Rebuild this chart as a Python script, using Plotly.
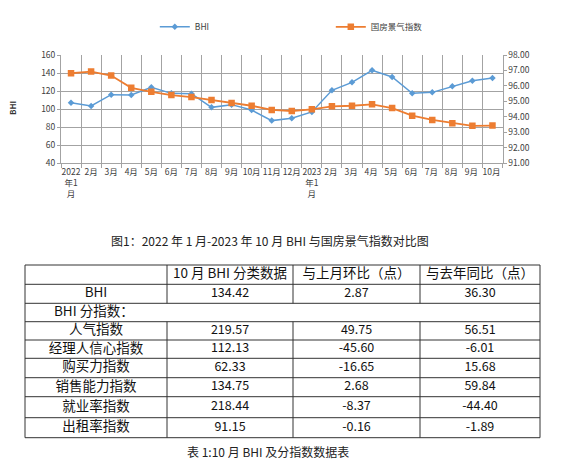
import plotly.graph_objects as go

# ---- chart data ----
months = ["2022<br>年1<br>月", "2月", "3月", "4月", "5月", "6月", "7月", "8月", "9月", "10月", "11月", "12月",
          "2023<br>年1<br>月", "2月 ", "3月 ", "4月 ", "5月 ", "6月 ", "7月 ", "8月 ", "9月 ", "10月 "]
bhi = [107.2, 103.5, 116.0, 115.7, 124.2, 117.5, 117.2, 102.0, 105.0, 99.0, 87.3, 90.0,
       96.9, 120.9, 129.7, 143.0, 135.6, 117.5, 118.6, 125.3, 131.55, 134.42]
guofang = [96.82, 96.93, 96.67, 95.88, 95.62, 95.41, 95.28, 95.09, 94.90, 94.72, 94.45, 94.38,
           94.49, 94.68, 94.72, 94.81, 94.57, 94.08, 93.80, 93.59, 93.42, 93.44]

# ---- table data ----
table_header = ["", "10 月 BHI 分类数据", "与上月环比（点）", "与去年同比（点）"]
row_names = ["BHI", "人气指数", "经理人信心指数", "购买力指数", "销售能力指数", "就业率指数", "出租率指数"]
col_value = ["134.42", "219.57", "112.13", "62.33", "134.75", "218.44", "91.15"]
col_mom = ["2.87", "49.75", "-45.60", "-16.65", "2.68", "-8.37", "-0.16"]
col_yoy = ["36.30", "56.51", "-6.01", "15.68", "59.84", "-44.40", "-1.89"]
sub_title = "BHI 分指数："

caption1 = "图1：2022 年 1 月-2023 年 10 月 BHI 与国房景气指数对比图"
caption2 = "表 1:10 月 BHI 及分指数数据表"

W, H = 565, 470
FONT = "Noto Sans CJK SC, Noto Sans, sans-serif"
GRID = "#a3a3a3"
TICK = "#404040"

fig = go.Figure()

fig.add_trace(go.Scatter(x=months, y=bhi, name="BHI", mode="lines+markers",
                         line=dict(color="#5b9bd5", width=1.5),
                         marker=dict(symbol="diamond", size=5, color="#5b9bd5"),
                         xaxis="x", yaxis="y"))
fig.add_trace(go.Scatter(x=months, y=guofang, name="国房景气指数", mode="lines+markers",
                         line=dict(color="#ed7d31", width=1.8),
                         marker=dict(symbol="square", size=6.5, color="#ed7d31"),
                         xaxis="x", yaxis="y2"))

# table grid on a pixel-like helper axis
cols = [25, 167, 293, 420, 540]
rows = [265, 284.3, 303.3, 321.7, 340, 358.3, 377.7, 396.7, 417.7, 437.7]
centers = [(cols[i] + cols[i + 1]) / 2 for i in range(4)]
row_mid = [(rows[i] + rows[i + 1]) / 2 for i in range(9)]

shapes = []
for yy in rows:
    shapes.append(dict(type="line", xref="x3", yref="y3", x0=cols[0], x1=cols[-1], y0=yy, y1=yy,
                       line=dict(color="#333333", width=1)))
for i, xx in enumerate(cols):
    if i in (0, len(cols) - 1):
        shapes.append(dict(type="line", xref="x3", yref="y3", x0=xx, x1=xx, y0=rows[0], y1=rows[-1],
                           line=dict(color="#333333", width=1)))
    else:
        # the "BHI 分指数" row spans all columns
        for a, b in [(0, 2), (3, 9)]:
            shapes.append(dict(type="line", xref="x3", yref="y3", x0=xx, x1=xx, y0=rows[a], y1=rows[b],
                               line=dict(color="#333333", width=1)))

num_font = dict(family=FONT, size=12.5, color="#111111")
cjk_font = dict(family=FONT, size=13.5, color="#111111")
fig.add_trace(go.Scatter(x=centers, y=[row_mid[0]] * 4, text=table_header, mode="text",
                         textfont=cjk_font, showlegend=False, hoverinfo="skip",
                         xaxis="x3", yaxis="y3"))
ys = [row_mid[1]] + row_mid[3:]
for cx, col, f in zip(centers, [row_names, col_value, col_mom, col_yoy],
                      [cjk_font, num_font, num_font, num_font]):
    fig.add_trace(go.Scatter(x=[cx] * len(col), y=ys, text=col, mode="text",
                             textfont=f, showlegend=False, hoverinfo="skip",
                             xaxis="x3", yaxis="y3"))
fig.add_trace(go.Scatter(x=[54], y=[row_mid[2]], text=[sub_title], mode="text",
                         textposition="middle right", textfont=cjk_font,
                         showlegend=False, hoverinfo="skip", xaxis="x3", yaxis="y3"))

annotations = [
    dict(text="BHI", x=12, y=108, xref="x3", yref="y3", showarrow=False, textangle=-90,
         font=dict(family=FONT, size=8, color="#333333", weight="bold")),
    dict(text=caption1, x=270, y=240, xref="x3", yref="y3", showarrow=False,
         font=dict(family=FONT, size=12, color="#222222")),
    dict(text=caption2, x=268, y=451, xref="x3", yref="y3", showarrow=False,
         font=dict(family=FONT, size=12, color="#222222")),
]

tickfont = dict(family=FONT, size=8.5, color=TICK)
fig.update_layout(
    width=W, height=H, margin=dict(l=0, r=0, t=0, b=0, autoexpand=False),
    paper_bgcolor="white", plot_bgcolor="rgba(0,0,0,0)",
    font=dict(family=FONT),
    showlegend=True,
    legend=dict(orientation="h", x=0.274, y=0.943, xanchor="left", yanchor="middle",
                entrywidth=131, font=dict(family=FONT, size=8.5, color=TICK),
                bgcolor="rgba(0,0,0,0)"),
    xaxis=dict(domain=[61 / W, 502.5 / W], type="category", tickson="boundaries",
               range=[-0.5, len(months) - 0.5],
               showgrid=True, gridcolor=GRID, ticks="outside", ticklen=4, tickcolor=GRID,
               showline=True, linecolor=GRID, tickfont=tickfont, tickangle=0,
               anchor="y", fixedrange=True, automargin=False),
    yaxis=dict(domain=[1 - 163.3 / H, 1 - 55 / H], range=[40, 160], dtick=20,
               showgrid=True, gridcolor=GRID, ticks="outside", ticklen=3, tickcolor=GRID,
               showline=True, linecolor=GRID, tickfont=tickfont, zeroline=False,
               anchor="x", fixedrange=True, automargin=False),
    yaxis2=dict(overlaying="y", side="right", range=[91, 98], dtick=1, tickformat=".2f",
                showgrid=False, ticks="outside", ticklen=3, tickcolor=GRID,
                showline=True, linecolor=GRID, tickfont=tickfont, zeroline=False,
                anchor="x", fixedrange=True, automargin=False),
    xaxis3=dict(domain=[0, 1], range=[0, W], visible=False, anchor="y3", fixedrange=True,
                automargin=False),
    yaxis3=dict(domain=[0, 1], range=[H, 0], visible=False, anchor="x3", fixedrange=True,
                automargin=False),
    shapes=shapes,
    annotations=annotations,
)

fig.write_html("out.html", config={"displayModeBar": False},
               post_script="document.body.style.margin='0';")
